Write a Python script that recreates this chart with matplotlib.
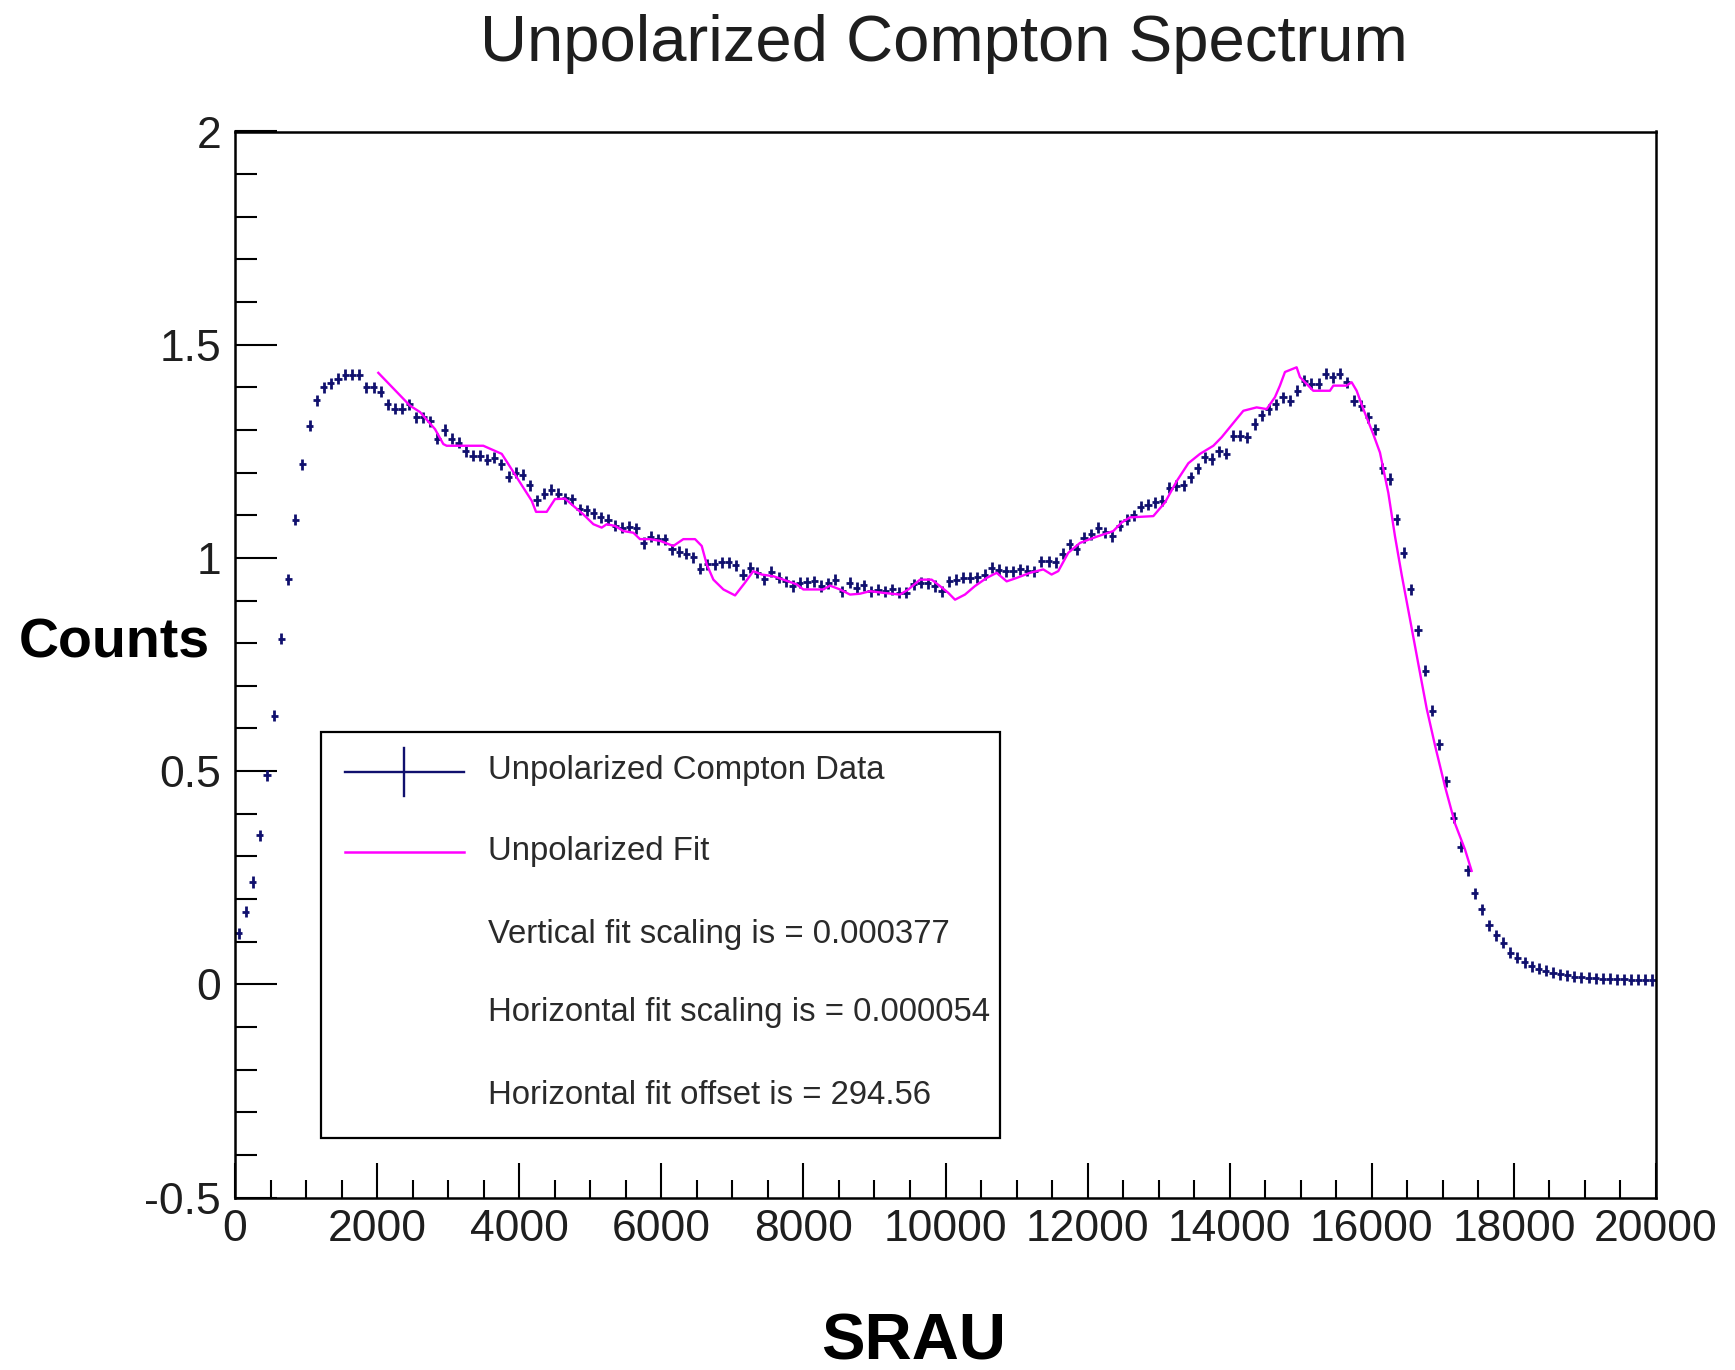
"""Unpolarized Compton spectrum: binned data with the scaled fit overlaid."""
import numpy as np
import matplotlib
matplotlib.use("Agg")
import matplotlib.pyplot as plt
from matplotlib.lines import Line2D
from matplotlib.patches import Rectangle
from matplotlib.ticker import FuncFormatter, MultipleLocator

plt.rcParams["font.family"] = ["Liberation Sans", "DejaVu Sans"]

# ---- data ---------------------------------------------------------------
BIN_W = 100
BIN_CENTERS = np.arange(BIN_W / 2, 20000, BIN_W)
COUNTS = [
    0.12, 0.17, 0.24, 0.35, 0.49, 0.63, 0.81, 0.95, 1.09, 1.22,
    1.31, 1.37, 1.40, 1.41, 1.42, 1.43, 1.43, 1.43, 1.40, 1.40,
    1.39, 1.36, 1.35, 1.35, 1.36, 1.33, 1.33, 1.32, 1.28, 1.30,
    1.28, 1.27, 1.25, 1.24, 1.24, 1.23, 1.235, 1.22, 1.19, 1.20,
    1.195, 1.17, 1.135, 1.15, 1.16, 1.15, 1.14, 1.138, 1.114, 1.112,
    1.105, 1.095, 1.09, 1.075, 1.071, 1.073, 1.069, 1.035, 1.05, 1.044,
    1.044, 1.02, 1.014, 1.01, 1.002, 0.975, 0.985, 0.985, 0.99, 0.99,
    0.983, 0.96, 0.977, 0.965, 0.95, 0.968, 0.953, 0.945, 0.934, 0.942,
    0.943, 0.945, 0.934, 0.94, 0.949, 0.922, 0.942, 0.93, 0.936, 0.922,
    0.925, 0.922, 0.926, 0.918, 0.918, 0.938, 0.942, 0.94, 0.934, 0.922,
    0.945, 0.949, 0.953, 0.953, 0.955, 0.961, 0.977, 0.972, 0.969, 0.969,
    0.973, 0.97, 0.969, 0.992, 0.992, 0.99, 1.01, 1.032, 1.02, 1.047,
    1.055, 1.071, 1.06, 1.051, 1.075, 1.09, 1.10, 1.12, 1.125, 1.13,
    1.134, 1.165, 1.169, 1.17, 1.189, 1.21, 1.236, 1.232, 1.25, 1.244,
    1.287, 1.287, 1.283, 1.314, 1.334, 1.349, 1.36, 1.377, 1.369, 1.392,
    1.416, 1.408, 1.408, 1.432, 1.424, 1.432, 1.412, 1.369, 1.357, 1.33,
    1.302, 1.21, 1.185, 1.091, 1.012, 0.926, 0.83, 0.735, 0.642, 0.563,
    0.476, 0.391, 0.323, 0.267, 0.213, 0.176, 0.138, 0.115, 0.097, 0.074,
    0.062, 0.052, 0.042, 0.037, 0.032, 0.027, 0.024, 0.021, 0.018, 0.016,
    0.015, 0.014, 0.013, 0.013, 0.012, 0.012, 0.011, 0.011, 0.011, 0.010,
]
COUNT_ERR = 0.013

FIT_X = [
    2017, 2463, 2604, 2815, 2932, 2979, 3495, 3754, 3847, 4011,
    4176, 4237, 4387, 4504, 4645, 4762, 4903, 5044, 5161, 5232,
    5349, 5466, 5607, 5700, 5841, 5982, 6169, 6310, 6475, 6569,
    6639, 6733, 6874, 7038, 7178, 7295, 7413, 7577, 7718, 7905,
    7999, 8281, 8374, 8515, 8656, 8797, 8937, 9125, 9359, 9477,
    9641, 9805, 9922, 10039, 10134, 10274, 10415, 10579, 10720, 10861,
    11001, 11189, 11376, 11493, 11587, 11728, 11892, 12033, 12150, 12362,
    12479, 12597, 12925, 13089, 13254, 13418, 13582, 13770, 13887, 14098,
    14192, 14379, 14520, 14637, 14707, 14778, 14942, 14989, 15176, 15411,
    15458, 15646, 15716, 15787, 15881, 16021, 16115, 16233, 16327, 16421,
    16538, 16655, 16772, 16890, 17030, 17171, 17312, 17405,
]
FIT_Y = [
    1.434, 1.357, 1.342, 1.302, 1.267, 1.263, 1.263, 1.244, 1.220, 1.177,
    1.134, 1.108, 1.108, 1.138, 1.139, 1.122, 1.102, 1.079, 1.071, 1.079,
    1.075, 1.063, 1.059, 1.044, 1.044, 1.040, 1.028, 1.044, 1.044, 1.028,
    0.985, 0.949, 0.926, 0.912, 0.942, 0.969, 0.961, 0.957, 0.949, 0.938,
    0.926, 0.926, 0.935, 0.926, 0.914, 0.916, 0.922, 0.918, 0.914, 0.926,
    0.949, 0.949, 0.934, 0.918, 0.902, 0.914, 0.934, 0.953, 0.965, 0.945,
    0.953, 0.965, 0.973, 0.961, 0.969, 1.012, 1.035, 1.044, 1.051, 1.063,
    1.083, 1.095, 1.098, 1.130, 1.180, 1.222, 1.244, 1.263, 1.283, 1.326,
    1.345, 1.353, 1.349, 1.377, 1.404, 1.436, 1.447, 1.424, 1.392, 1.392,
    1.404, 1.404, 1.412, 1.392, 1.349, 1.290, 1.247, 1.152, 1.050, 0.960,
    0.856, 0.751, 0.647, 0.560, 0.464, 0.377, 0.316, 0.266,
]

LEGEND_LINES = [
    "Unpolarized Compton Data",
    "Unpolarized Fit",
    "Vertical fit scaling is = 0.000377",
    "Horizontal fit scaling is = 0.000054",
    "Horizontal fit offset is = 294.56",
]

C_DATA = "#10106e"
C_FIT = "#ff00ff"
C_TEXT = "#1e1e1e"

W, H = 1735, 1370


def px(x, y):
    """Pixel position (from top-left) -> figure fraction."""
    return x / W, 1 - y / H


fig = plt.figure(figsize=(W / 100, H / 100), dpi=100)
ax = fig.add_axes([235 / W, 1 - 1197.5 / H, (1656 - 235) / W, (1197.5 - 131.5) / H])

ax.errorbar(BIN_CENTERS, COUNTS, xerr=BIN_W / 2, yerr=COUNT_ERR, fmt="none",
            ecolor=C_DATA, elinewidth=2.0, capsize=0, zorder=2)
ax.plot(FIT_X, FIT_Y, color=C_FIT, lw=1.7, zorder=3)

ax.set_xlim(0, 20000)
ax.set_ylim(-0.5, 2)
ax.xaxis.set_major_locator(MultipleLocator(2000))
ax.xaxis.set_minor_locator(MultipleLocator(500))
ax.yaxis.set_major_locator(MultipleLocator(0.5))
ax.yaxis.set_minor_locator(MultipleLocator(0.1))
ax.yaxis.set_major_formatter(FuncFormatter(lambda v, _: f"{v:g}"))
ax.xaxis.set_major_formatter(FuncFormatter(lambda v, _: f"{v:g}"))
ax.tick_params(which="both", direction="in", top=False, right=False,
               width=1.5, colors="black", labelcolor=C_TEXT, labelsize=32)
ax.tick_params(axis="y", which="major", length=30, pad=10)
ax.tick_params(axis="y", which="minor", length=16)
ax.tick_params(axis="x", which="major", length=25, pad=8)
ax.tick_params(axis="x", which="minor", length=13)
for s in ax.spines.values():
    s.set_linewidth(1.8)

fig.text(*px(944, 44), "Unpolarized Compton Spectrum", ha="center", va="center",
         fontsize=47, color=C_TEXT)
fig.text(*px(114, 643), "Counts", ha="center", va="center", fontsize=40,
         fontweight="bold", color="black")
fig.text(*px(914, 1342), "SRAU", ha="center", va="center", fontsize=47,
         fontweight="bold", color="black")

# legend box, drawn by hand to match the ROOT TLegend layout
x0, y0 = px(321, 1137.5)
x1, y1 = px(1000, 731.5)
fig.add_artist(Rectangle((x0, y0), x1 - x0, y1 - y0, transform=fig.transFigure,
                         facecolor="white", edgecolor="black", lw=1.6, zorder=5))
hx0, _ = px(345, 0)
hx1, _ = px(464, 0)
_, ya = px(0, 772)
fig.add_artist(Line2D([hx0, hx1], [ya, ya], transform=fig.transFigure,
                      color=C_DATA, lw=1.7, zorder=6))
vx, _ = px(404, 0)
_, vt = px(0, 748)
_, vb = px(0, 796)
fig.add_artist(Line2D([vx, vx], [vb, vt], transform=fig.transFigure,
                      color=C_DATA, lw=1.7, zorder=6))
_, yb = px(0, 852)
fig.add_artist(Line2D([hx0, hx1], [yb, yb], transform=fig.transFigure,
                      color=C_FIT, lw=1.8, zorder=6))
for label, ypix in zip(LEGEND_LINES, [770, 852, 934, 1013, 1095]):
    fig.text(*px(488, ypix), label, ha="left", va="center", fontsize=23.7,
             color="#2a2a2a", zorder=7)

fig.savefig("out.png", dpi=100)
